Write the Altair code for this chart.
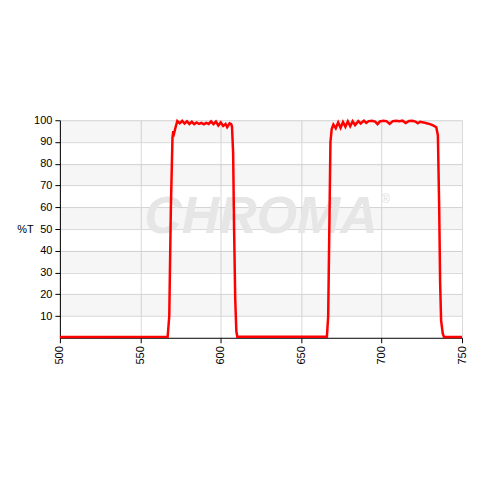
import altair as alt
import pandas as pd

# Transmission curve (wavelength nm, %T)
wl = [500, 567, 568, 569, 570, 570.5, 571, 572,
      573, 574.5, 576, 577.5, 579, 580.5, 582, 583.5, 585, 586.5, 588, 589.5, 591, 592.5,
      594, 595.5, 597, 598.5, 600, 601.5, 603, 604, 605.5, 606.5, 607,
      607.7, 608.3, 609, 609.7, 610.3,
      666, 666.8, 667.5, 668.2, 669,
      670, 671.5, 673, 674.5, 676, 677.5, 679, 680.5, 682, 683.5, 685.5, 687, 689, 690.5,
      692, 694, 696, 697.5, 699, 701, 703, 705, 707, 709, 711, 713, 715, 717, 719, 721,
      722.5, 724, 726, 728, 730, 732, 734, 735,
      735.8, 736.4, 737, 738, 738.8, 750]
tr = [0.3, 0.5, 10, 60, 92, 95, 94, 97,
      99.6, 98.6, 99.7, 98.5, 99.5, 98.3, 99.3, 98.2, 99.0, 98.3, 98.8, 98.1, 98.8, 98.3,
      99.5, 98.2, 99.4, 97.6, 99.0, 97.4, 98.3, 96.8, 98.6, 98.2, 97.0,
      85, 50, 18, 3, 0.5,
      0.5, 10, 50, 90, 96,
      98.0, 96.3, 99.0, 96.5, 99.2, 97.0, 99.5, 97.3, 99.5, 97.8, 99.6, 98.5, 99.8, 98.8,
      99.6, 99.8, 99.4, 98.2, 99.5, 99.8, 99.6, 98.3, 99.6, 99.8, 99.5, 99.8, 98.7, 99.7, 99.8, 99.4,
      98.6, 99.3, 99.0, 98.6, 98.2, 97.6, 96.8, 93,
      60, 25, 8, 2, 0.3, 0.3]

x_ticks = [500, 550, 600, 650, 700, 750]
y_ticks = [10, 20, 30, 40, 50, 60, 70, 80, 90, 100]
band_lo = [10, 30, 50, 70, 90]

curve = pd.DataFrame({"wl": wl, "T": tr})
bands = pd.DataFrame({"lo": band_lo, "hi": [b + 10 for b in band_lo]})
logo = pd.DataFrame({"wl": [625], "T": [55.5], "txt": ["CHROMA"]})
reg = pd.DataFrame({"wl": [702.5], "T": [64], "txt": ["®"]})

FONT = "Liberation Sans"
xs = alt.Scale(domain=[500, 750], nice=False, zero=False)
ys = alt.Scale(domain=[0, 100], nice=False)

x_axis = alt.Axis(values=x_ticks, title=None, labelAngle=270, labelAlign="right",
                  labelBaseline="middle", tickSize=5, labelPadding=3,
                  labelOverlap=False, labelFlush=False,
                  domainColor="#000", tickColor="#000", labelColor="#000",
                  gridColor="#d9d9d9", labelFont=FONT, labelFontSize=11)
y_axis = alt.Axis(values=y_ticks, title="%T", titleAngle=0, titleAlign="center",
                  titleBaseline="middle", titleX=-35, titleY=109,
                  titleFont=FONT, titleFontSize=11, titleFontWeight="normal",
                  titleColor="#000", labelOverlap=False, labelFlush=False,
                  tickSize=5, labelPadding=3, domainColor="#000",
                  tickColor="#000", labelColor="#000", gridColor="#d9d9d9",
                  labelFont=FONT, labelFontSize=11)

line_layer = alt.Chart(curve).mark_line(color="#ff0000", strokeWidth=2.5).encode(
    x=alt.X("wl:Q", scale=xs, axis=x_axis),
    y=alt.Y("T:Q", scale=ys, axis=y_axis),
)

band_layer = alt.Chart(bands).mark_rect(color="#000000", opacity=0.035).encode(
    y=alt.Y("lo:Q", scale=ys, axis=y_axis), y2="hi:Q")

logo_layer = alt.Chart(logo).mark_text(
    font=FONT, fontSize=52, fontWeight="bold", fontStyle="italic",
    color="#e6e6e6", align="center", baseline="middle").encode(
    x=alt.X("wl:Q", scale=xs, axis=x_axis), y=alt.Y("T:Q", scale=ys, axis=y_axis),
    text="txt:N")

reg_layer = alt.Chart(reg).mark_text(
    font=FONT, fontSize=12, color="#e0e0e0").encode(
    x=alt.X("wl:Q", scale=xs, axis=x_axis), y=alt.Y("T:Q", scale=ys, axis=y_axis),
    text="txt:N")

chart = alt.layer(band_layer, logo_layer, reg_layer, line_layer).properties(
    width=403, height=218,
    autosize=alt.AutoSizeParams(type="none"),
    padding={"left": 52, "top": 112, "right": 10, "bottom": 120},
).configure_view(stroke=None).configure_axis(
    gridWidth=1, domainWidth=1, labelOverlap=False, labelFlush=False)

chart.save("out.html", embed_options={"renderer": "svg", "actions": False})
